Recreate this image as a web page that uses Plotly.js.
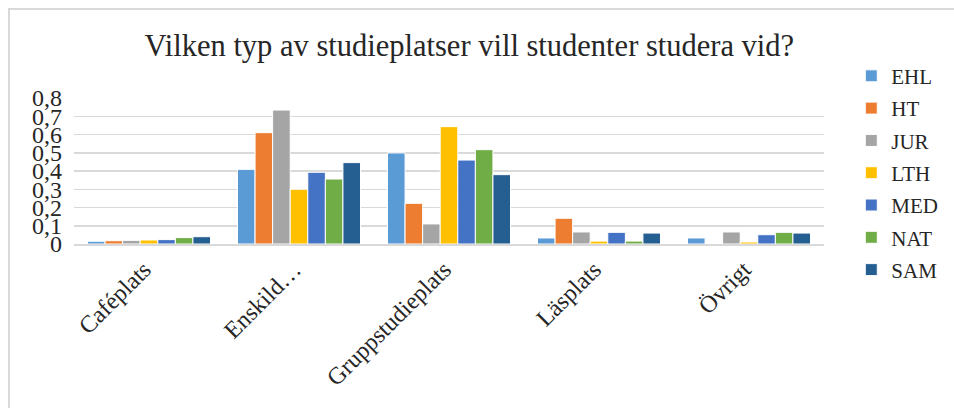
<!DOCTYPE html>
<html>
<head>
<meta charset="utf-8">
<script src="https://cdn.plot.ly/plotly-3.0.1.min.js"></script>
<style>
html,body{margin:0;padding:0;background:#fff;overflow:hidden;}
#frame{position:absolute;left:8px;top:8px;width:1000px;height:500px;border-top:2px solid #d9d9d9;border-left:2px solid #d9d9d9;box-sizing:border-box;pointer-events:none;z-index:5;}
#chart{position:absolute;left:0;top:0;width:954px;height:408px;}
</style>
</head>
<body>
<div id="chart"></div>
<div id="frame"></div>
<script>
const categories = ["Caféplats", "Enskild…", "Gruppstudieplats", "Läsplats", "Övrigt"];
const seriesNames = ["EHL", "HT", "JUR", "LTH", "MED", "NAT", "SAM"];
const EHL = [0.015, 0.409, 0.499, 0.033, 0.033];
const HT  = [0.018, 0.610, 0.223, 0.141, 0.0];
const JUR = [0.020, 0.734, 0.110, 0.066, 0.066];
const LTH = [0.022, 0.300, 0.643, 0.016, 0.011];
const MED = [0.024, 0.393, 0.460, 0.064, 0.051];
const NAT = [0.035, 0.356, 0.517, 0.016, 0.064];
const SAM = [0.040, 0.446, 0.380, 0.060, 0.060];
const seriesValues = [EHL, HT, JUR, LTH, MED, NAT, SAM];
const colors = ["#5B9BD5", "#ED7D31", "#A5A5A5", "#FFC000", "#4472C4", "#70AD47", "#255E91"];
const yTickVals = [0, 0.1, 0.2, 0.3, 0.4, 0.5, 0.6, 0.7, 0.8];
const yTickText = ["0", "0,1", "0,2", "0,3", "0,4", "0,5", "0,6", "0,7", "0,8"];

const serif = '"Liberation Serif", "DejaVu Serif", serif';
const traces = seriesNames.map((n, i) => ({
  type: "bar",
  name: n,
  x: categories,
  y: seriesValues[i],
  legendgroup: n,
  marker: {color: colors[i], line: {color: "#ffffff", width: 1}},
  hoverinfo: "x+y+name"
}));

const layout = {
  width: 954, height: 408,
  margin: {l: 74, r: 129, t: 98, b: 164, pad: 0},
  paper_bgcolor: "#ffffff", plot_bgcolor: "#ffffff",
  font: {family: serif, color: "#262626", size: 20},
  title: {text: "Vilken typ av studieplatser vill studenter studera vid?",
          font: {family: serif, size: 30.5, color: "#262626"},
          x: 0.492, xanchor: "center", y: 0.89, yanchor: "middle"},
  barmode: "group",
  bargap: 0.18,
  bargroupgap: 0,
  xaxis: {
    tickangle: -45,
    tickfont: {family: serif, size: 24, color: "#262626"},
    showgrid: false, zeroline: false,
    showline: true, linecolor: "#d9d9d9", linewidth: 2,
    ticks: "", automargin: false,
    ticklabelshift: -5
  },
  yaxis: {
    range: [0, 0.8],
    tickvals: yTickVals, ticktext: yTickText,
    tickfont: {family: serif, size: 24, color: "#262626"},
    showgrid: true, gridcolor: "#d9d9d9", gridwidth: 1.5,
    zeroline: false, showline: false, ticks: "", ticklen: 0,
    ticklabelstandoff: 11,
    automargin: false
  },
  legend: {
    x: 1.035, xanchor: "left", y: 1.29, yanchor: "top",
    font: {family: serif, size: 21, color: "#262626"},
    tracegroupgap: 2,
    itemwidth: 30,
    maxheight: 400,
    bgcolor: "rgba(0,0,0,0)"
  },
  showlegend: true
};

Plotly.newPlot("chart", traces, layout, {displayModeBar: false, staticPlot: true});
</script>
</body>
</html>
